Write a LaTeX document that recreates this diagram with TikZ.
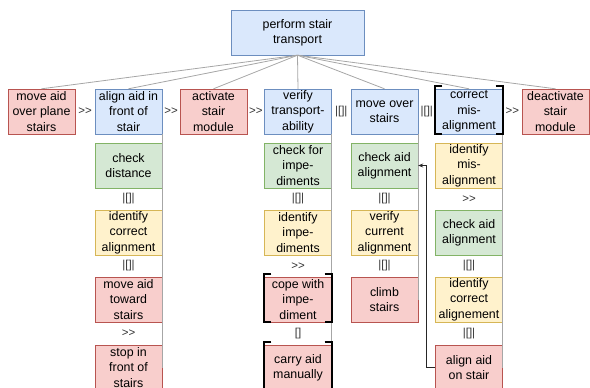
\documentclass[tikz,border=0pt]{standalone}
\usepackage{fontspec}
\setmainfont{Liberation Sans}
\usetikzlibrary{arrows.meta}

\definecolor{bluefill}{HTML}{DAE8FC}
\definecolor{blueline}{HTML}{6C8EBF}
\definecolor{greenfill}{HTML}{D5E8D4}
\definecolor{greenline}{HTML}{82B366}
\definecolor{yellowfill}{HTML}{FFF2CC}
\definecolor{yellowline}{HTML}{D6B656}
\definecolor{redfill}{HTML}{F8CECC}
\definecolor{redline}{HTML}{B85450}
\definecolor{linkgray}{HTML}{A6A6A6}

\begin{document}
\begin{tikzpicture}[x=1pt,y=-1pt,
    task/.style={draw, minimum width=67pt, minimum height=45pt, inner sep=0pt,
      align=center, font=\fontsize{12.4}{15.4}\selectfont},
    bluetask/.style={task, fill=bluefill, draw=blueline},
    greentask/.style={task, fill=greenfill, draw=greenline},
    yellowtask/.style={task, fill=yellowfill, draw=yellowline},
    redtask/.style={task, fill=redfill, draw=redline},
    op/.style={inner sep=1pt, text=black!80, font=\fontsize{11.5}{13}\selectfont},
    link/.style={draw=linkgray, line width=0.8pt}]

    \useasboundingbox (0,0) rectangle (590,388);
    \clip (0,0) rectangle (590,388);

    % Root task
    \node[bluetask, minimum width=133pt] (root) at (297.5,32.5) {perform stair\\transport};

    % Top row
    \node[redtask]  (mvplane)    at (41.5,111.5)  {move aid\\over plane\\stairs};
    \node[bluetask] (align)      at (128.5,111.5) {align aid in\\front of\\stair};
    \node[redtask]  (activate)   at (213.5,111.5) {activate\\stair\\module};
    \node[bluetask] (verify)     at (298,111.5)   {verify\\transport-\\ability};
    \node[bluetask] (moveover)   at (384.5,111.5) {move over\\stairs};
    \node[bluetask] (correct)    at (469,111.5)   {correct\\mis-\\alignment};
    \node[redtask]  (deactivate) at (555.5,111.5) {deactivate\\stair\\module};

    % Children of align
    \node[greentask]  (chkdist)   at (128.5,165.5) {check\\distance};
    \node[yellowtask] (idalign)   at (128.5,232.5) {identify\\correct\\alignment};
    \node[redtask]    (mvtoward)  at (128.5,299.5) {move aid\\toward\\stairs};
    \node[redtask]    (stopfront) at (128.5,367.5) {stop in\\front of\\stairs};

    % Children of verify
    \node[greentask]  (chkimp) at (298,165.5) {check for\\impe-\\diments};
    \node[yellowtask] (idimp)  at (298,232.5) {identify\\impe-\\diments};
    \node[redtask]    (cope)   at (298,299.5) {cope with\\impe-\\diment};
    \node[redtask]    (carry)  at (298,367.5) {carry aid\\manually};

    % Children of move over
    \node[greentask]  (chkaid) at (384.5,165.5) {check aid\\alignment};
    \node[yellowtask] (vercur) at (384.5,232.5) {verify\\current\\alignment};
    \node[redtask]    (climb)  at (384.5,299.5) {climb\\stairs};

    % Children of correct
    \node[yellowtask] (idmis)   at (469,165.5) {identify\\mis-\\alignment};
    \node[greentask]  (chkagn)  at (469,232.5) {check aid\\alignment};
    \node[yellowtask] (idcorr)  at (469,299.5) {identify\\correct\\alignement};
    \node[redtask]    (alignon) at (469,367.5) {align aid\\on stair};

    % Links from the root
    \foreach \t in {mvplane,align,activate,verify,moveover,correct,deactivate}
      \draw[link] (root.south) -- (\t.north);

    % Links down the columns
    \draw[link] (align.south east) -- (stopfront.east);
    \draw[link] (verify.south east) -- (carry.east);
    \draw[link] (moveover.south east) -- (climb.east);
    \draw[link] (correct.south east) -- (alignon.east);

    % Operators, top row
    \path (mvplane.east) -- (align.west) node[op, midway] (o1) {>\kern0pt>};
    \path (align.east) -- (activate.west) node[op, midway] (o2) {>\kern0pt>};
    \path (activate.east) -- (verify.west) node[op, midway] (o3) {>\kern0pt>};
    \path (verify.east) -- (moveover.west) node[op, midway] (o4) {|[]|};
    \path (moveover.east) -- (correct.west) node[op, midway] (o5) {|[]|};
    \path (correct.east) -- (deactivate.west) node[op, midway] (o6) {>\kern0pt>};

    % Operators, columns
    \path (chkdist.south) -- (idalign.north) node[op, midway] (a1) {|[]|};
    \path (idalign.south) -- (mvtoward.north) node[op, midway] (a2) {|[]|};
    \path (mvtoward.south) -- (stopfront.north) node[op, midway] (a3) {>\kern0pt>};
    \path (chkimp.south) -- (idimp.north) node[op, midway] (v1) {|[]|};
    \path (idimp.south) -- (cope.north) node[op, midway] (v2) {>\kern0pt>};
    \path (cope.south) -- (carry.north) node[op, midway] (v3) {[]};
    \path (chkaid.south) -- (vercur.north) node[op, midway] (m1) {|[]|};
    \path (vercur.south) -- (climb.north) node[op, midway] (m2) {|[]|};
    \path (idmis.south) -- (chkagn.north) node[op, midway] (c1) {>\kern0pt>};
    \path (chkagn.south) -- (idcorr.north) node[op, midway] (c2) {|[]|};
    \path (idcorr.south) -- (alignon.north) node[op, midway] (c3) {|[]|};

    % Brackets
    \foreach \n in {correct,cope,carry}
      {
        \draw[line width=1.8pt] ([xshift=7pt,yshift=2.5pt]\n.north west) -- ([yshift=2.5pt]\n.north west)
          -- (\n.south west) -- ([xshift=7pt]\n.south west);
        \draw[line width=1.8pt] ([xshift=-7pt,yshift=2.5pt]\n.north east) -- ([yshift=2.5pt]\n.north east)
          -- (\n.south east) -- ([xshift=-7pt]\n.south east);
      }

    % Back link
    \draw[-{Stealth[length=5pt,width=4pt]}, black!85, line width=0.8pt]
      (alignon.west) -- ++(-9,0) |- (chkaid.east);
  \end{tikzpicture}
\end{document}
